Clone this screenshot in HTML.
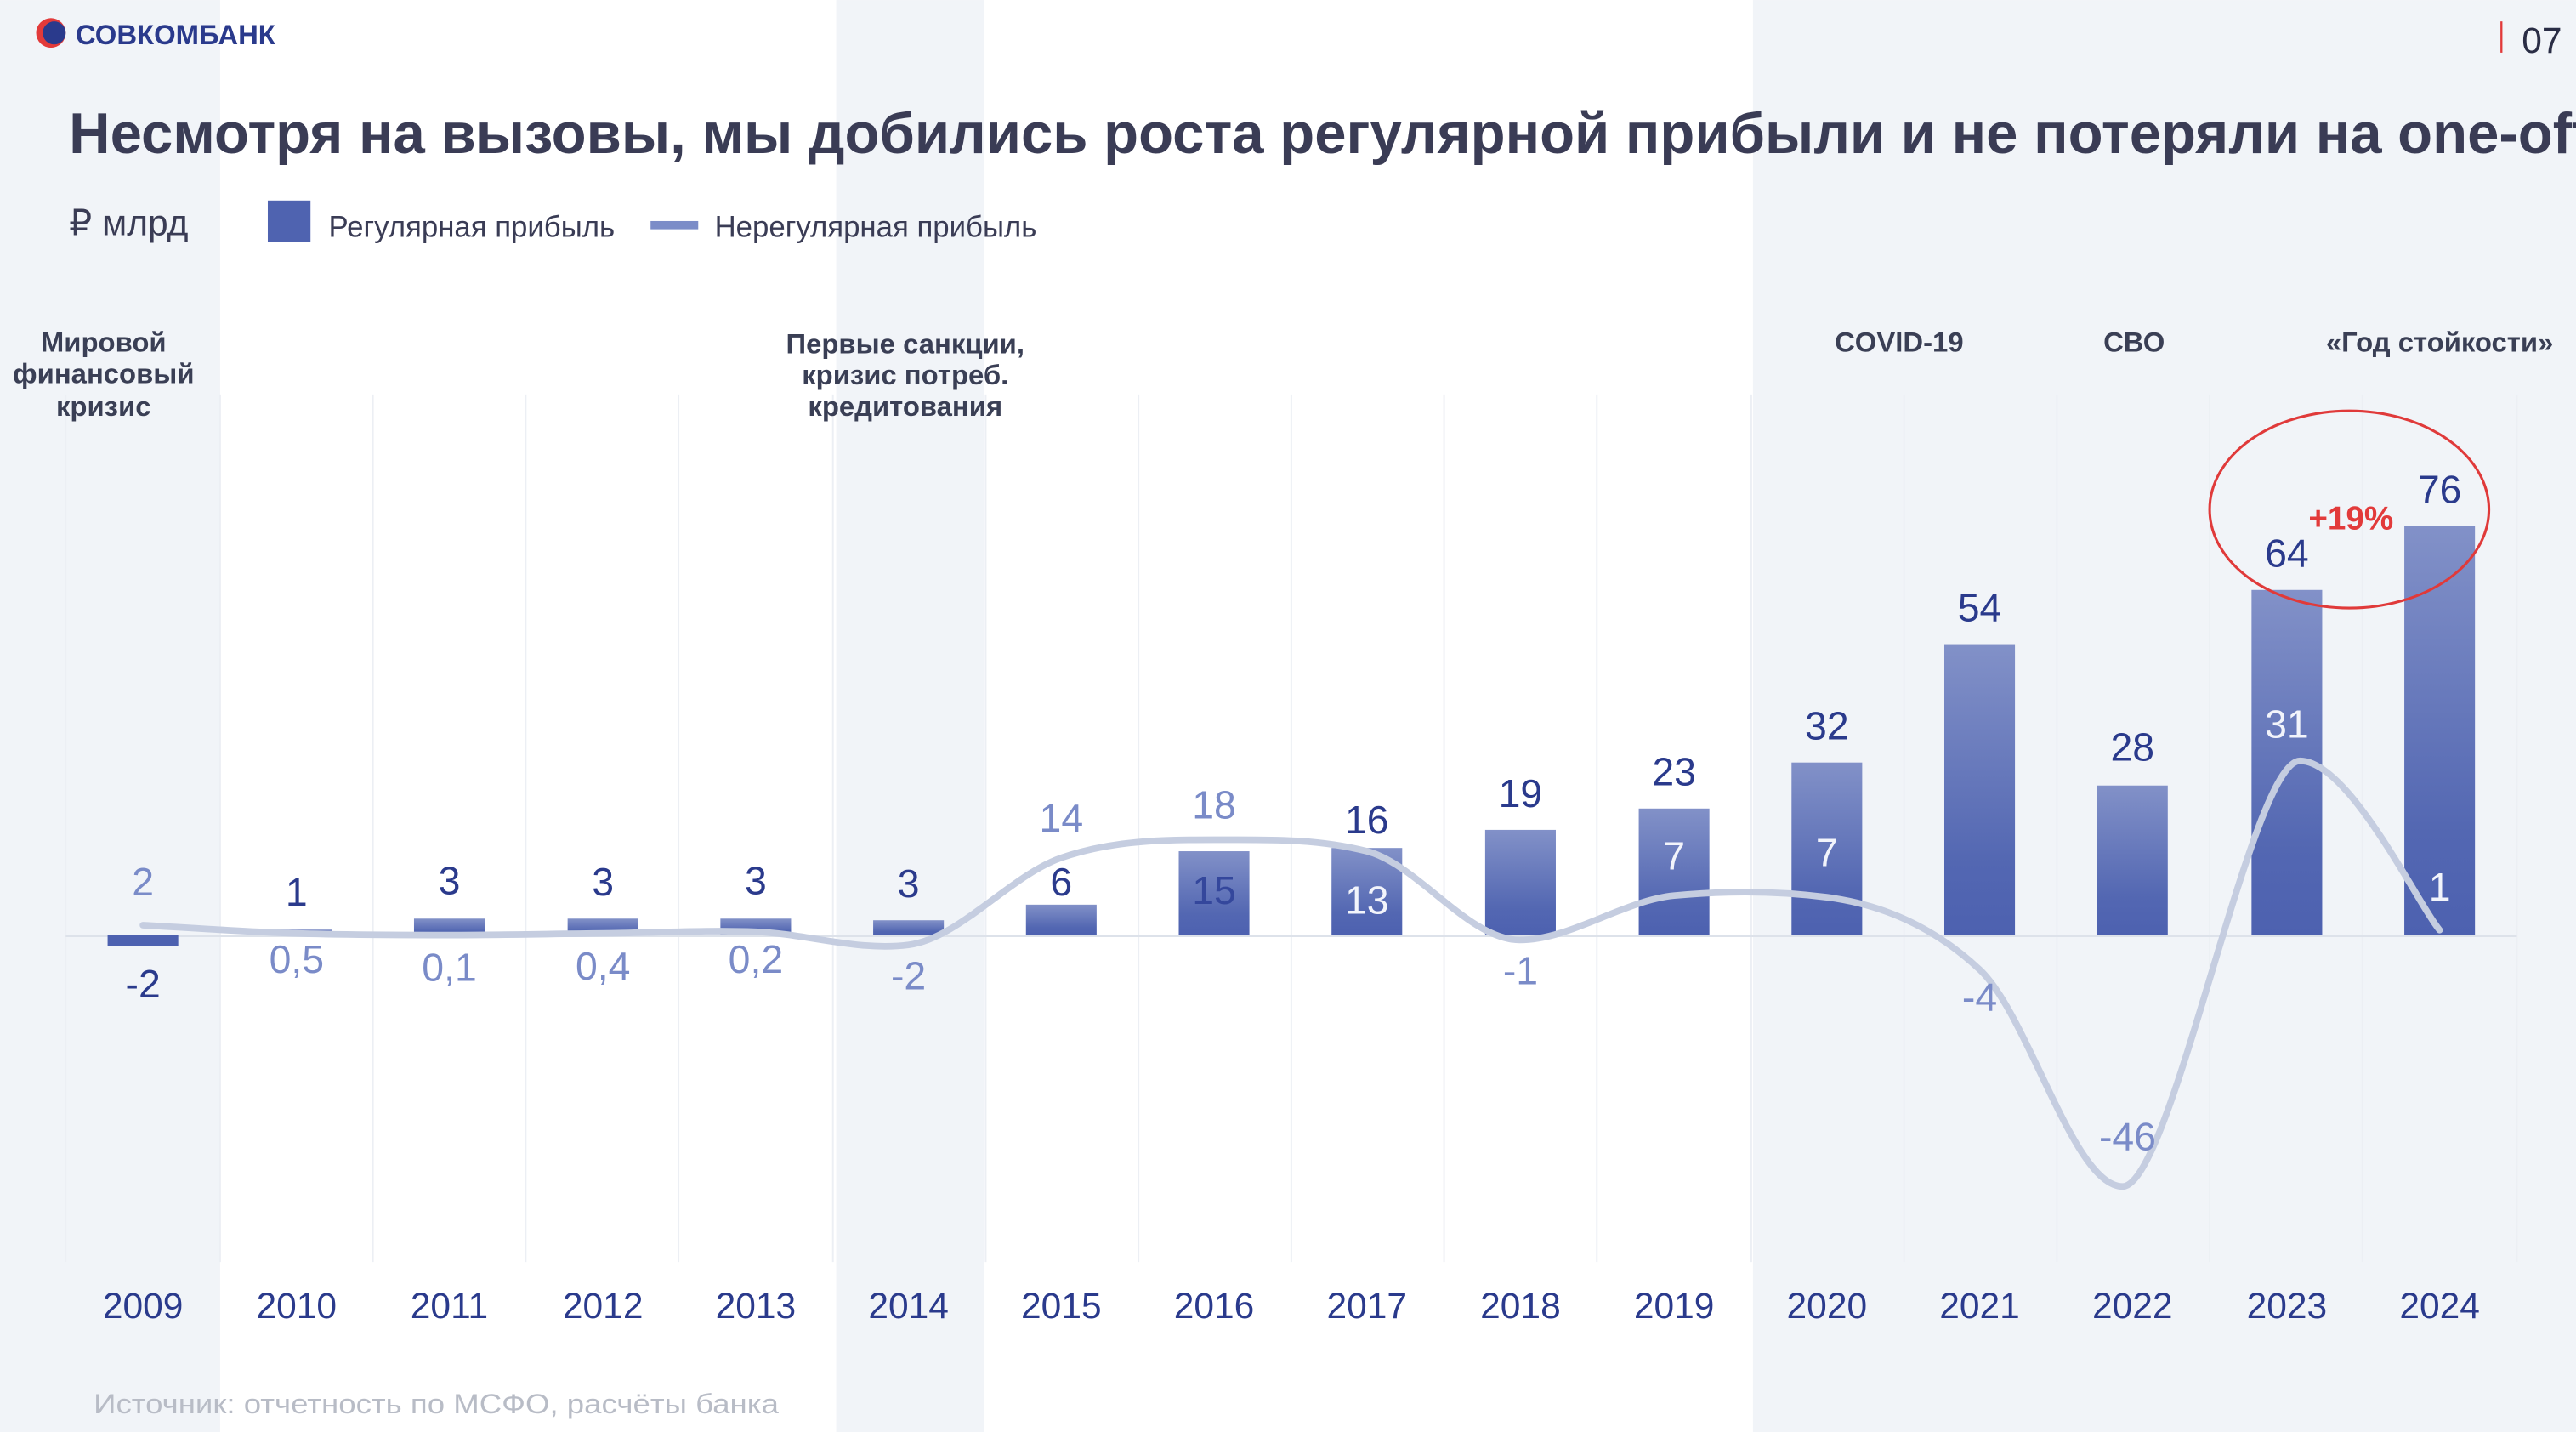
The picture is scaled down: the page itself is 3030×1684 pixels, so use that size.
<!DOCTYPE html>
<html><head><meta charset="utf-8"><style>
html,body{margin:0;padding:0;background:#fff;}
svg{display:block;font-family:"Liberation Sans","DejaVu Sans",sans-serif;}
</style></head><body>
<svg width="3030" height="1684" viewBox="0 0 1568 871.4" xmlns="http://www.w3.org/2000/svg">
<defs>
<linearGradient id="g" x1="0" y1="0" x2="0" y2="1">
<stop offset="0" stop-color="#8291c8"/><stop offset="0.75" stop-color="#5367b2"/><stop offset="1" stop-color="#4d61b0"/>
</linearGradient>
</defs>
<rect width="1568" height="872" fill="#fff"/>
<rect x="0" y="0" width="134" height="872" fill="#f1f4f8"/>
<rect x="509" y="0" width="90" height="872" fill="#f1f4f8"/>
<rect x="1067" y="0" width="501" height="872" fill="#f1f4f8"/>
<g stroke="#eceff4" stroke-width="1">
<line x1="134" y1="240" x2="134" y2="768"/><line x1="227" y1="240" x2="227" y2="768"/><line x1="320" y1="240" x2="320" y2="768"/><line x1="413" y1="240" x2="413" y2="768"/><line x1="507" y1="240" x2="507" y2="768"/><line x1="600" y1="240" x2="600" y2="768"/><line x1="693" y1="240" x2="693" y2="768"/><line x1="786" y1="240" x2="786" y2="768"/><line x1="879" y1="240" x2="879" y2="768"/><line x1="972" y1="240" x2="972" y2="768"/><line x1="1066" y1="240" x2="1066" y2="768"/><line x1="1159" y1="240" x2="1159" y2="768"/><line x1="1252" y1="240" x2="1252" y2="768"/><line x1="1345" y1="240" x2="1345" y2="768"/><line x1="1438" y1="240" x2="1438" y2="768"/><line x1="1532" y1="240" x2="1532" y2="768"/><line x1="40" y1="240" x2="40" y2="768"/>
</g>
<circle cx="31" cy="20" r="9" fill="#e23a3a"/><circle cx="33" cy="20" r="7" fill="#2a3a8c"/>
<text x="46" y="27" font-size="17" font-weight="bold" fill="#2a3a8c">СОВКОМБАНК</text>
<rect x="1522" y="13" width="1.2" height="19" fill="#e23a3a"/>
<text x="1535" y="32" font-size="22" fill="#2a2d45">07</text>
<text x="42" y="93" font-size="35" font-weight="bold" fill="#3a3c55" textLength="1535" lengthAdjust="spacingAndGlyphs">Несмотря на вызовы, мы добились роста регулярной прибыли и не потеряли на one-off</text>
<text x="42" y="143" font-size="22" fill="#3a3c55">₽ млрд</text>
<rect x="163" y="122" width="26" height="25" fill="#4f63b0"/>
<text x="200" y="144" font-size="18" fill="#3a3c55">Регулярная прибыль</text>
<rect x="396" y="134.5" width="29" height="5" fill="#7b8cc8"/>
<text x="435" y="144" font-size="18" fill="#3a3c55">Нерегулярная прибыль</text>
<g font-size="17" font-weight="bold" fill="#3a3f55" text-anchor="middle">
<text x="63" y="214">Мировой</text><text x="63" y="233">финансовый</text><text x="63" y="253">кризис</text>
<text x="551" y="215">Первые санкции,</text><text x="551" y="234">кризис потреб.</text><text x="551" y="253">кредитования</text>
<text x="1156" y="214">COVID-19</text><text x="1299" y="214">СВО</text><text x="1485" y="214">«Год стойкости»</text>
</g>
<line x1="40" y1="569.5" x2="1532" y2="569.5" stroke="#dde2ea" stroke-width="1.5"/>
<g fill="url(#g)">
<rect x="65.5" y="569" width="43" height="6.5" fill="#4d61b0"/>
<rect x="159" y="565.7" width="43" height="3.3"/>
<rect x="252" y="559" width="43" height="10"/>
<rect x="345.5" y="559" width="43" height="10"/>
<rect x="438.5" y="559" width="43" height="10"/>
<rect x="531.5" y="560" width="43" height="9"/>
<rect x="624.5" y="550.5" width="43" height="18.5"/>
<rect x="717.5" y="518" width="43" height="51"/>
<rect x="810.5" y="516" width="43" height="53"/>
<rect x="904" y="505" width="43" height="64"/>
<rect x="997.5" y="492" width="43" height="77"/>
<rect x="1090.5" y="464" width="43" height="105"/>
<rect x="1183.5" y="392" width="43" height="177"/>
<rect x="1276.5" y="478" width="43" height="91"/>
<rect x="1370.5" y="359" width="43" height="210"/>
<rect x="1463.5" y="320" width="43" height="249"/>
</g>
<path d="M87,563 C102.5,563.8 149,567 180,568 C211,569 241.8,569 273,569 C304.2,569 335.8,568.3 367,568 C398.2,567.7 429,565.8 460,567 C491,568.2 522,579 553,575 C584,571 615,532.7 646,522 C677,511.3 708,511 739,511 C770,511 801,510 832,518 C863,526 894,572 925,572 C956,572 988,548 1019,545 C1050,542 1081,542 1112,546 C1143,550 1175,562 1205,590 C1235,618 1262,722 1292,722 C1322,722 1370,463 1400,463 C1430,463 1471,549 1485,566" fill="none" stroke="#c5cde0" stroke-width="4" stroke-linecap="round"/>
<g font-size="24" text-anchor="middle" fill="#2a3a8c">
<text x="87" y="607">-2</text><text x="180.5" y="551">1</text><text x="273.5" y="544">3</text><text x="367" y="545">3</text><text x="460" y="544">3</text><text x="553" y="546">3</text><text x="646" y="545">6</text>
<text x="739" y="550" fill="#34479c">15</text>
<text x="832" y="507">16</text><text x="925.5" y="491">19</text><text x="1019" y="478">23</text><text x="1112" y="450">32</text><text x="1205" y="378">54</text><text x="1298" y="463">28</text><text x="1392" y="345">64</text><text x="1485" y="306">76</text>
</g>
<g font-size="24" text-anchor="middle" fill="#7a8bc8">
<text x="87" y="545">2</text><text x="180.5" y="592">0,5</text><text x="273.5" y="597">0,1</text><text x="367" y="596">0,4</text><text x="460" y="592">0,2</text><text x="553" y="602">-2</text><text x="646" y="506">14</text><text x="739" y="498">18</text><text x="925.5" y="599">-1</text><text x="1205" y="615">-4</text><text x="1295" y="700">-46</text>
</g>
<g font-size="24" text-anchor="middle" fill="#f2f4fb">
<text x="832" y="556">13</text><text x="1019" y="529">7</text><text x="1112" y="527">7</text><text x="1392" y="449">31</text><text x="1485" y="548">1</text>
</g>
<ellipse cx="1430" cy="310" rx="85" ry="60" fill="none" stroke="#e03a3a" stroke-width="1.6"/>
<text x="1431" y="322" font-size="20" font-weight="bold" fill="#e23a3a" text-anchor="middle">+19%</text>
<g font-size="22" text-anchor="middle" fill="#2a3a8c">
<text x="87" y="802">2009</text><text x="180.5" y="802">2010</text><text x="273.5" y="802">2011</text><text x="367" y="802">2012</text><text x="460" y="802">2013</text><text x="553" y="802">2014</text><text x="646" y="802">2015</text><text x="739" y="802">2016</text><text x="832" y="802">2017</text><text x="925.5" y="802">2018</text><text x="1019" y="802">2019</text><text x="1112" y="802">2020</text><text x="1205" y="802">2021</text><text x="1298" y="802">2022</text><text x="1392" y="802">2023</text><text x="1485" y="802">2024</text>
</g>
<text x="57" y="860" font-size="17" fill="#b8bcc6" textLength="417" lengthAdjust="spacingAndGlyphs">Источник: отчетность по МСФО, расчёты банка</text>
</svg>
</body></html>
